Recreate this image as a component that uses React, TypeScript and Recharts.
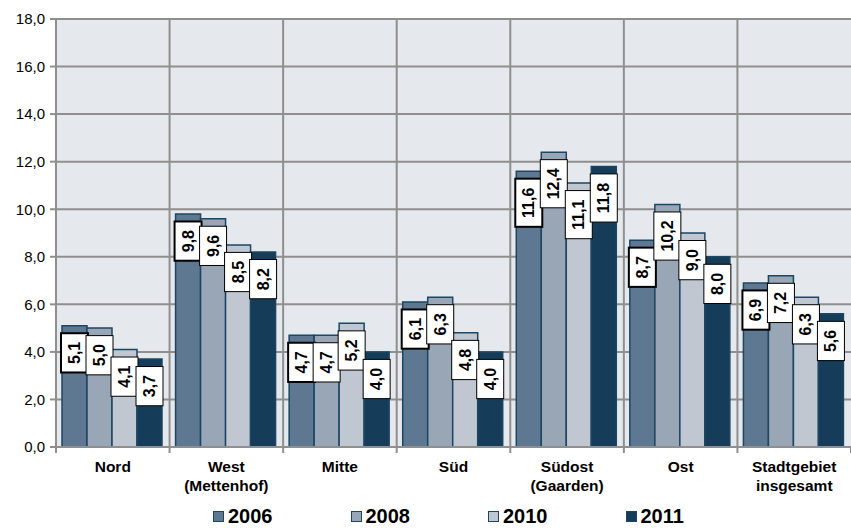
import { BarChart, Bar, XAxis, YAxis, CartesianGrid, Legend, LabelList } from "recharts";

const regions = ["Nord", "West", "Mitte", "Süd", "Südost", "Ost", "Stadtgebiet"];
const regionLines: Record<string, string[]> = {
  Nord: ["Nord"],
  West: ["West", "(Mettenhof)"],
  Mitte: ["Mitte"],
  Süd: ["Süd"],
  Südost: ["Südost", "(Gaarden)"],
  Ost: ["Ost"],
  Stadtgebiet: ["Stadtgebiet", "insgesamt"],
};

const v2006 = [5.1, 9.8, 4.7, 6.1, 11.6, 8.7, 6.9];
const v2008 = [5.0, 9.6, 4.7, 6.3, 12.4, 10.2, 7.2];
const v2010 = [4.1, 8.5, 5.2, 4.8, 11.1, 9.0, 6.3];
const v2011 = [3.7, 8.2, 4.0, 4.0, 11.8, 8.0, 5.6];

const yTicks = [0, 2, 4, 6, 8, 10, 12, 14, 16, 18];

const series = [
  { key: "y2006", name: "2006", color: "#5e7891", border: 2 },
  { key: "y2008", name: "2008", color: "#99a6b5", border: 1 },
  { key: "y2010", name: "2010", color: "#c0c7d1", border: 1 },
  { key: "y2011", name: "2011", color: "#153d5a", border: 1 },
];

const data = regions.map((r, i) => ({
  region: r,
  y2006: v2006[i],
  y2008: v2008[i],
  y2010: v2010[i],
  y2011: v2011[i],
}));

const W = 851;
const H = 528;
const Y_AXIS_W = 56;
const PLOT_TOP = 19;
const PLOT_BOTTOM = 447;
const STEP = (W - Y_AXIS_W) / regions.length;
const FONT = "Arial, 'Liberation Sans', Helvetica, sans-serif";
const GRID = "#8f8f8f";
const OUTLINE = "#1d4663";
const LABEL_FS = 16;

const fmt = (v: number) => v.toFixed(1).replace(".", ",");

// rough text width for bold Arial
const textW = (s: string) =>
  s.split("").reduce((a, c) => a + (c === "," ? 0.278 : 0.556) * LABEL_FS, 0);

function makeLabel(border: number) {
  return (props: any) => {
    const { x, y, width, value } = props;
    const s = fmt(Number(value));
    const h = textW(s) + 17;
    const bx = x - 1;
    const by = y + 7.5;
    const bw = width + 2;
    const cx = bx + bw / 2;
    const cy = by + h / 2;
    return (
      <g>
        <rect x={bx} y={by} width={bw} height={h} fill="#fff" stroke="#000" strokeWidth={border} />
        <text
          x={cx}
          y={cy}
          transform={`rotate(-90, ${cx}, ${cy})`}
          textAnchor="middle"
          dominantBaseline="central"
          style={{ fontFamily: FONT, fontWeight: "bold", fontSize: LABEL_FS }}
          fill="#000"
        >
          {s}
        </text>
      </g>
    );
  };
}

function RegionTick(props: any) {
  const { x, payload, index } = props;
  const lines = regionLines[payload.value] || [payload.value];
  return (
    <g>
      <line x1={x - STEP / 2} y1={PLOT_BOTTOM} x2={x - STEP / 2} y2={PLOT_BOTTOM + 6} stroke={GRID} strokeWidth={2} />
      {index === regions.length - 1 && (
        <line x1={x + STEP / 2} y1={PLOT_BOTTOM} x2={x + STEP / 2} y2={PLOT_BOTTOM + 6} stroke={GRID} strokeWidth={2} />
      )}
      <text
        x={x}
        y={PLOT_BOTTOM + 25}
        textAnchor="middle"
        style={{ fontFamily: FONT, fontWeight: "bold", fontSize: 15.5 }}
        fill="#000"
      >
        {lines.map((l, i) => (
          <tspan key={i} x={x} dy={i === 0 ? 0 : 19}>
            {l}
          </tspan>
        ))}
      </text>
    </g>
  );
}

function LegendBox() {
  return (
    <div style={{ position: "relative", width: W, height: 30 }}>
      {series.map((s, i) => (
        <div
          key={s.key}
          style={{
            position: "absolute",
            left: 213 + i * 137.5,
            top: 7,
            display: "flex",
            alignItems: "center",
            fontFamily: FONT,
            fontWeight: "bold",
            fontSize: 20,
            lineHeight: "22px",
            color: "#000",
          }}
        >
          <span
            style={{
              display: "inline-block",
              width: 9,
              height: 9,
              background: s.color,
              border: `1.5px solid ${OUTLINE}`,
              marginRight: 4,
            }}
          />
          {s.name}
        </div>
      ))}
    </div>
  );
}

export default function App() {
  return (
    <div style={{ width: W, height: H, background: "#fff", fontFamily: FONT }}>
      <style>{"body{margin:0}"}</style>
      <BarChart
        width={W}
        height={H}
        data={data}
        margin={{ top: PLOT_TOP, right: 0, left: 0, bottom: 0 }}
        barCategoryGap={6}
        barGap={0}
      >
        <CartesianGrid
          fill="#e5e8ec"
          stroke={GRID}
          strokeWidth={2}
          verticalCoordinatesGenerator={({ offset }: any) =>
            regions.map((_, i) => offset.left + i * (offset.width / regions.length))
          }
        />
        <XAxis
          dataKey="region"
          height={51}
          interval={0}
          tickLine={false}
          axisLine={{ stroke: GRID, strokeWidth: 2 }}
          tick={<RegionTick />}
        />
        <YAxis
          width={Y_AXIS_W}
          domain={[0, 18]}
          ticks={yTicks}
          interval={0}
          tickFormatter={fmt}
          tickSize={6}
          tickMargin={5}
          tickLine={{ stroke: GRID, strokeWidth: 2 }}
          axisLine={{ stroke: GRID, strokeWidth: 2 }}
          tick={{ style: { fontFamily: FONT }, fontSize: 15, fill: "#000" }}
        />
        <Legend verticalAlign="bottom" content={<LegendBox />} wrapperStyle={{ left: 0, width: W, height: 30 }} />
        {series.map((s) => (
          <Bar
            key={s.key}
            dataKey={s.key}
            name={s.name}
            fill={s.color}
            stroke={OUTLINE}
            strokeWidth={1.5}
            isAnimationActive={false}
          >
            <LabelList dataKey={s.key} content={makeLabel(s.border)} />
          </Bar>
        ))}
      </BarChart>
    </div>
  );
}
